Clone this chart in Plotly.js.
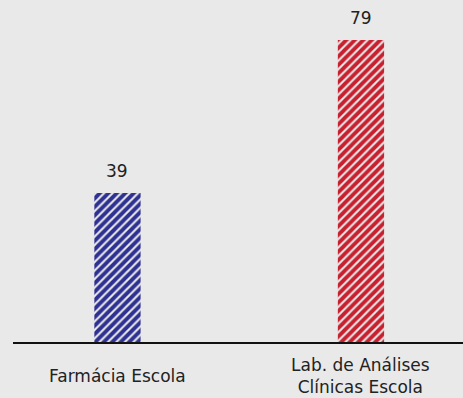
<!DOCTYPE html>
<html><head><meta charset="utf-8">
<script src="https://cdn.plot.ly/plotly-3.0.1.min.js"></script>
<style>html,body{margin:0;padding:0;background:#e9e9e9}</style>
</head><body>
<div id="chart" style="width:463px;height:398px"></div>
<script>
const categories = ["Farmácia Escola", "Lab. de Análises<br>Clínicas Escola"];
const values = [39, 79];
const colors = ["#2e3192", "#c8202f"];

const trace = {
  type: "bar",
  x: categories,
  y: values,
  width: 0.19,
  marker: {
    color: colors,
    line: {width: 0},
    pattern: {shape: "/", fgcolor: colors, fgopacity: 1, bgcolor: "#e9e9e9", size: 6, solidity: 0.65, fillmode: "replace"}
  },
  hoverinfo: "none"
};

const font = "'Comic Sans MS', 'DejaVu Sans', sans-serif";
const annotations = [];
categories.forEach((c, i) => {
  annotations.push({x: c, y: values[i], xref: "x", yref: "y", text: String(values[i]),
    showarrow: false, yanchor: "bottom", yshift: 10, font: {family: font, size: 17, color: "#222"}});
  annotations.push({x: c, y: -0.1, xref: "x", yref: "paper", text: c,
    showarrow: false, yanchor: "middle", font: {family: font, size: 17, color: "#222"}});
});

const layout = {
  width: 463, height: 398,
  margin: {l: 13, r: 0, t: 0, b: 56},
  paper_bgcolor: "#e9e9e9",
  plot_bgcolor: "#e9e9e9",
  showlegend: false,
  xaxis: {type: "category", range: [-0.429, 1.419], showline: true, linecolor: "#111", linewidth: 2,
    showticklabels: false, ticks: "", showgrid: false, zeroline: false, fixedrange: true},
  yaxis: {range: [0, 89.5], visible: false, showgrid: false, zeroline: false, fixedrange: true},
  annotations: annotations
};

Plotly.newPlot("chart", [trace], layout, {displayModeBar: false, staticPlot: true});
</script>
</body></html>
